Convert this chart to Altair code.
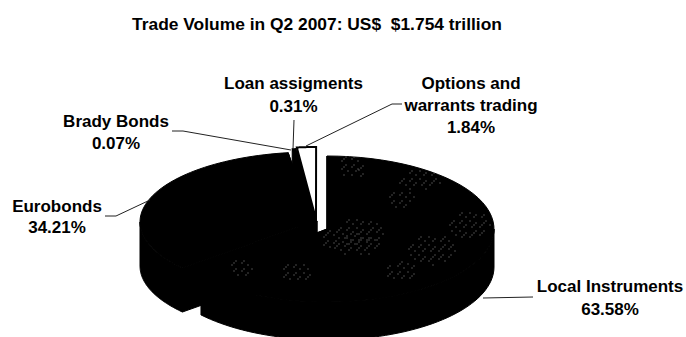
import math
import altair as alt
import pandas as pd

WIDTH, HEIGHT = 686, 337

# Trade volume shares, in percent, clockwise from twelve o'clock
segments = ["Local Instruments", "Eurobonds", "Brady Bonds", "Loan assigments", "Options and warrants trading"]
shares = [63.58, 34.21, 0.07, 0.31, 1.84]

# Pie drawing parameters: exploded centre of each slice, radii and wall depth
centres_x = [327, 312, 317, 315, 316]
centres_y = [229, 222, 222, 221, 219]
radii_x = [167, 172, 171, 170, 167]
radii_y = [73, 70, 73, 73, 72]
depths = [38, 44, 38, 38, 38]

# Label text: anchor and one entry per line
label_x = [610, 57, 116, 293.5, 471, 471, 471]
label_y = [292, 212, 127, 89, 89, 111, 133]
label_text = ["Local Instruments", "Eurobonds", "Brady Bonds", "Loan assigments",
              "Options and", "warrants trading", "1.84%"]
value_x = [610, 57, 116, 293.5]
value_y = [315, 233, 149, 112]
value_text = ["63.58%", "34.21%", "0.07%", "0.31%"]

# Leader lines: (x0, y0, x1, y1)
leaders = [
    (483, 298, 533, 297),
    (105, 216, 116, 216),
    (116, 216, 150, 200),
    (172, 131, 183, 131),
    (183, 131, 291, 150),
    (294, 120, 293, 149),
    (306, 146, 392, 104),
    (392, 104, 402, 104),
]

# Speckled patches on the Local Instruments surface: x, y, half width, half height
patches = [
    (350, 167, 10, 12), (363, 172, 6, 8), (420, 180, 22, 11), (402, 200, 14, 9),
    (470, 225, 22, 14), (360, 232, 25, 14), (433, 250, 26, 15), (402, 272, 16, 10),
    (357, 245, 24, 11), (330, 240, 8, 9), (297, 273, 15, 10), (243, 268, 13, 9),
]

FONT = "Liberation Sans"
x_scale = alt.Scale(domain=[0, WIDTH], range=[0, WIDTH])
y_scale = alt.Scale(domain=[0, HEIGHT], range=[0, HEIGHT])


def enc(chart):
    return chart.encode(
        x=alt.X("x:Q", scale=x_scale, axis=None),
        y=alt.Y("y:Q", scale=y_scale, axis=None),
    )


def rim(cx, cy, rx, ry, a0, a1, dy=0, steps=60):
    pts = []
    for i in range(steps + 1):
        a = math.radians(a0 + (a1 - a0) * i / steps)
        pts.append((cx + rx * math.sin(a), cy - ry * math.cos(a) + dy))
    return pts


def shape(points, fill, stroke, stroke_width):
    df = pd.DataFrame(points, columns=["x", "y"]).assign(i=range(len(points)))
    return enc(alt.Chart(df).mark_line(
        interpolate="linear-closed", fill=fill, stroke=stroke,
        strokeWidth=stroke_width, clip=True,
    )).encode(order="i:Q")


layers = []
edges = [0.0]
for s in shares:
    edges.append(edges[-1] + s * 3.6)
slices = list(zip(centres_x, centres_y, radii_x, radii_y, edges[:-1], edges[1:], depths))

# Back slices first, then the larger ones over them
for idx in [4, 3, 2, 1, 0]:
    cx, cy, rx, ry, a0, a1, depth = slices[idx]
    top = rim(cx, cy, rx, ry, a0, a1)
    apex = (cx, cy)
    apex_low = (cx, cy + depth)
    # Cut faces
    layers.append(shape([apex, top[0], (top[0][0], top[0][1] + depth), apex_low], "#000000", "#000000", 1.0))
    layers.append(shape([apex, top[-1], (top[-1][0], top[-1][1] + depth), apex_low], "#000000", "#000000", 1.0))
    # Only the near half of the curved side faces the viewer
    w0, w1 = max(a0, 90), min(a1, 270)
    if w1 > w0:
        near = rim(cx, cy, rx, ry, w0, w1)
        near_low = rim(cx, cy, rx, ry, w0, w1, dy=depth)
        layers.append(shape(near + near_low[::-1], "#000000", "#000000", 1.0))
    if idx == 4:
        layers.append(shape([apex] + top, "#ffffff", "#000000", 2.0))
    else:
        layers.append(shape([apex] + top, "#000000", "#000000", 1.0))

# Dithered texture on the largest slice
dots = []
for px, py, hw, hh in patches:
    for j, yy in enumerate(range(py - hh, py + hh + 1, 2)):
        for k, xx in enumerate(range(px - hw, px + hw + 1, 2)):
            u, v = (xx - px) / hw, (yy - py) / hh
            if u * u + v * v <= 1 and (k + j) % 4 == 0 and (k * j + k) % 5 != 0:
                dots.append((xx, yy))
layers.append(enc(alt.Chart(pd.DataFrame(dots, columns=["x", "y"])).mark_square(
    size=1, color="#8c8c8c", opacity=1, clip=True)))

# Leader lines
for n, (x0, y0, x1, y1) in enumerate(leaders):
    df = pd.DataFrame({"x": [x0, x1], "y": [y0, y1]})
    layers.append(enc(alt.Chart(df).mark_line(stroke="#222222", strokeWidth=1)))

# Title and labels
title_df = pd.DataFrame({"x": [317], "y": [30], "t": ["Trade Volume in Q2 2007: US$\u00a0 $1.754 trillion"]})
layers.append(enc(alt.Chart(title_df).mark_text(
    font=FONT, fontWeight="bold", fontSize=17.4, align="center", baseline="alphabetic", color="#000000",
)).encode(text="t:N"))

label_df = pd.DataFrame({
    "x": label_x + value_x,
    "y": label_y + value_y,
    "t": label_text + value_text,
})
layers.append(enc(alt.Chart(label_df).mark_text(
    font=FONT, fontWeight="bold", fontSize=17, align="center", baseline="alphabetic", color="#000000",
)).encode(text="t:N"))

chart = alt.layer(*layers).properties(
    width=WIDTH, height=HEIGHT, padding=0, autosize=alt.AutoSizeParams(type="none"),
    background="#ffffff",
).configure_view(stroke=None)

chart.save("out.html", embed_options={"renderer": "svg", "actions": False})
